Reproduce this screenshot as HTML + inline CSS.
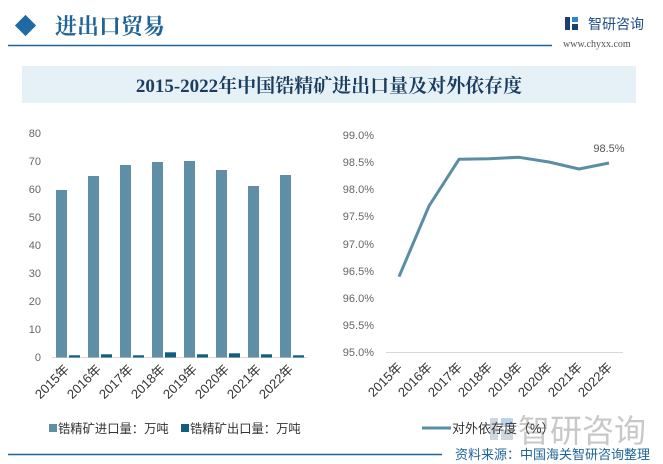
<!DOCTYPE html>
<html><head><meta charset="utf-8"><style>
body{margin:0;width:663px;height:464px;background:#fff;overflow:hidden;font-family:"Liberation Sans","Noto Sans CJK SC",sans-serif;}
</style></head><body>
<svg width="663" height="464" xmlns="http://www.w3.org/2000/svg" style="position:absolute;left:0;top:0">
<rect x="18" y="18" width="15" height="15" fill="#1f6aa0" transform="rotate(45 25.5 25.5)"/>
<text x="55" y="34" font-family="'Noto Serif CJK SC',serif" font-size="22" font-weight="bold" fill="#1e6496">进出口贸易</text>
<line x1="8" y1="45.5" x2="552" y2="45.5" stroke="#1e6496" stroke-width="1.5"/>
<rect x="565" y="17" width="5" height="13" fill="#1e3e6e"/><rect x="572" y="17" width="6" height="5" fill="#2f86c8"/><rect x="572" y="24" width="6" height="6" fill="#1e3e6e"/>
<text x="588" y="29" font-size="14" fill="#1e4e86" font-family="'Noto Sans CJK SC',sans-serif">智研咨询</text>
<text x="563" y="47" font-size="10" fill="#555" font-family="'Liberation Serif',serif">www.chyxx.com</text>
<rect x="22" y="66" width="614" height="37" fill="#e6f0f7"/>
<text x="329" y="92" text-anchor="middle" font-family="'Liberation Serif','Noto Serif CJK SC',serif" font-size="19" font-weight="bold" fill="#1b3e5e">2015-2022年中国锆精矿进出口量及对外依存度</text>
<g font-size="11" fill="#666" text-anchor="end">
<text x="41" y="137">80</text><text x="41" y="165">70</text><text x="41" y="193">60</text><text x="41" y="221">50</text><text x="41" y="249">40</text><text x="41" y="277">30</text><text x="41" y="305">20</text><text x="41" y="333">10</text><text x="41" y="361">0</text>
</g>
<line x1="52" y1="357.5" x2="307" y2="357.5" stroke="#d9d9d9"/>
<g fill="#5e8fa5">
<rect x="56" y="190" width="11" height="167.5"/><rect x="88" y="176" width="11" height="181.5"/><rect x="120" y="165" width="11" height="192.5"/><rect x="152" y="162" width="11" height="195.5"/><rect x="184" y="161" width="11" height="196.5"/><rect x="216" y="170" width="11" height="187.5"/><rect x="248" y="186" width="11" height="171.5"/><rect x="280" y="175" width="11" height="182.5"/>
</g>
<g fill="#115e7e">
<rect x="69" y="355.3" width="11" height="2.2"/><rect x="101" y="354.3" width="11" height="3.2"/><rect x="133" y="355.3" width="11" height="2.2"/><rect x="165" y="352.3" width="11" height="5.2"/><rect x="197" y="354.3" width="11" height="3.2"/><rect x="229" y="353.3" width="11" height="4.2"/><rect x="261" y="354.3" width="11" height="3.2"/><rect x="293" y="355.3" width="11" height="2.2"/>
</g>
<g font-size="13" fill="#333" text-anchor="end">
<text transform="translate(70 370) rotate(-45)">2015年</text><text transform="translate(102 370) rotate(-45)">2016年</text><text transform="translate(134 370) rotate(-45)">2017年</text><text transform="translate(166 370) rotate(-45)">2018年</text><text transform="translate(198 370) rotate(-45)">2019年</text><text transform="translate(230 370) rotate(-45)">2020年</text><text transform="translate(262 370) rotate(-45)">2021年</text><text transform="translate(294 370) rotate(-45)">2022年</text>
</g>
<rect x="49" y="424" width="8" height="8" fill="#5e8fa5"/>
<text x="58" y="433" font-size="12.3" fill="#333">锆精矿进口量：万吨</text>
<rect x="181" y="424" width="8" height="8" fill="#115e7e"/>
<text x="190" y="433" font-size="12.3" fill="#333">锆精矿出口量：万吨</text>
<g font-size="11" fill="#666" text-anchor="end">
<text x="374" y="139">99.0%</text><text x="374" y="166">98.5%</text><text x="374" y="193">98.0%</text><text x="374" y="220">97.5%</text><text x="374" y="248">97.0%</text><text x="374" y="275">96.5%</text><text x="374" y="302">96.0%</text><text x="374" y="329">95.5%</text><text x="374" y="356">95.0%</text>
</g>
<line x1="386" y1="352.5" x2="623" y2="352.5" stroke="#d9d9d9"/>
<polyline points="399,276.7 429,206 459,159.3 489,158.7 519,157.3 549,162 579,169 609,163" fill="none" stroke="#5a8ea3" stroke-width="3" stroke-linejoin="round"/>
<text x="609" y="152" text-anchor="middle" font-size="11" fill="#555">98.5%</text>
<g font-size="13" fill="#333" text-anchor="end">
<text transform="translate(403 368) rotate(-45)">2015年</text><text transform="translate(433 368) rotate(-45)">2016年</text><text transform="translate(463 368) rotate(-45)">2017年</text><text transform="translate(493 368) rotate(-45)">2018年</text><text transform="translate(523 368) rotate(-45)">2019年</text><text transform="translate(553 368) rotate(-45)">2020年</text><text transform="translate(583 368) rotate(-45)">2021年</text><text transform="translate(613 368) rotate(-45)">2022年</text>
</g>
<rect x="490" y="418" width="8" height="22" fill="#cfd8e0"/><rect x="501" y="418" width="12" height="9" fill="#bcd4ea"/><rect x="501" y="430" width="12" height="10" fill="#cfd8e0"/>
<text x="518" y="442" font-size="32" fill="#c8c8c8" font-family="'Noto Sans CJK SC',sans-serif">智研咨询</text>
<line x1="422" y1="428" x2="451" y2="428" stroke="#5a8ea3" stroke-width="3"/>
<text x="452" y="433" font-size="13" fill="#333">对外依存度（%）</text>
<line x1="8" y1="454.5" x2="442" y2="454.5" stroke="#1e6496" stroke-width="1.5"/>
<text x="455" y="459" font-size="13" fill="#1e6496">资料来源：中国海关智研咨询整理</text>
</svg>
</body></html>
